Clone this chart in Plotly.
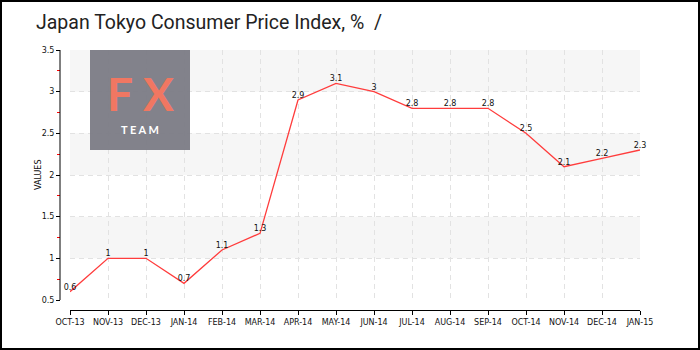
import plotly.graph_objects as go

months = ["OCT-13", "NOV-13", "DEC-13", "JAN-14", "FEB-14", "MAR-14", "APR-14", "MAY-14",
          "JUN-14", "JUL-14", "AUG-14", "SEP-14", "OCT-14", "NOV-14", "DEC-14", "JAN-15"]
values = [0.6, 1, 1, 0.7, 1.1, 1.3, 2.9, 3.1, 3, 2.8, 2.8, 2.8, 2.5, 2.1, 2.2, 2.3]
y_ticks = [0.5, 1, 1.5, 2, 2.5, 3, 3.5]
y_tick_labels = ["0.5", "1", "1.5", "2", "2.5", "3", "3.5"]
bands = [(1, 1.5), (2, 2.5), (3, 3.5)]

W, H = 700, 350
L, R, T, B = 60, 60, 50, 40
pw, ph = W - L - R, H - T - B


def px(x):
    return (x - L) / pw


def py(y):
    return (H - B - y) / ph


idx = list(range(len(months)))
fig = go.Figure()
fig.add_trace(go.Scatter(
    x=idx, y=values, mode="lines+text",
    line=dict(color="#ff3c3c", width=1.3),
    text=[str(v) for v in values], textposition="top center",
    textfont=dict(family="DejaVu Sans", size=8, color="#111"),
    cliponaxis=False, hoverinfo="skip", showlegend=False,
))
# invisible trace to carry the bottom (offset) x axis
fig.add_trace(go.Scatter(x=idx, y=values, xaxis="x2", mode="markers",
                         marker=dict(opacity=0), hoverinfo="skip", showlegend=False))

shapes = []
for lo, hi in bands:
    shapes.append(dict(type="rect", xref="x domain", yref="y", x0=0, x1=1, y0=lo, y1=hi,
                       fillcolor="#f6f6f6", line=dict(width=0), layer="below"))
# logo box
shapes.append(dict(type="rect", xref="paper", yref="paper", x0=px(90), x1=px(190),
                   y0=py(150), y1=py(50), fillcolor="#7b7b85", line=dict(width=0),
                   opacity=0.95, layer="above"))
# y axis line
shapes.append(dict(type="line", xref="paper", yref="y", x0=0, x1=0, y0=0.5, y1=3.5,
                   line=dict(color="#000", width=1)))
# outer frame
shapes.append(dict(type="rect", xref="paper", yref="paper", x0=px(1), x1=px(699),
                   y0=py(349), y1=py(1), line=dict(color="#000", width=2)))

annotations = [
    dict(text="<b>F X</b>", xref="paper", yref="paper", x=px(140), y=py(93), showarrow=False,
         font=dict(family="Lato", size=46, color="#f07762"),
         xanchor="center", yanchor="middle"),
    dict(text="<b>T E A M</b>", xref="paper", yref="paper", x=px(140), y=py(129), showarrow=False,
         font=dict(family="Lato", size=11, color="#ffffff"),
         xanchor="center", yanchor="middle"),
    dict(text="Japan Tokyo Consumer Price Index, %  /", xref="paper", yref="paper",
         x=px(34), y=py(23), showarrow=False, xanchor="left", yanchor="middle",
         font=dict(family="Roboto", size=19.5, color="#222")),
    dict(text="VALUES", xref="paper", yref="paper", x=px(38), y=py(175), showarrow=False,
         textangle=-90, xanchor="center", yanchor="middle",
         font=dict(family="DejaVu Sans", size=8, color="#111")),
]

grid_dash = "5px,4px"
tickfont = dict(family="DejaVu Sans", size=8, color="#111")

fig.update_layout(
    width=W, height=H, margin=dict(l=L, r=R, t=T, b=B),
    paper_bgcolor="#ffffff", plot_bgcolor="#ffffff",
    shapes=shapes, annotations=annotations,
    xaxis=dict(domain=[px(70), 1], range=[0, len(months) - 1],
               tickmode="array", tickvals=idx, showticklabels=False,
               anchor="y", showline=False, ticks="",
               showgrid=True, gridcolor="#e2e2e2", griddash=grid_dash, gridwidth=1,
               zeroline=False),
    xaxis2=dict(domain=[px(70), 1], matches="x", overlaying="x",
                tickmode="array", tickvals=idx, ticktext=months,
                anchor="free", position=0, side="bottom",
                showline=True, linecolor="#000", linewidth=1,
                ticks="outside", ticklen=4, tickcolor="#000",
                showgrid=False, zeroline=False, tickfont=tickfont),
    yaxis=dict(domain=[py(300), 1], range=[0.5, 3.5],
               tickmode="array", tickvals=y_ticks, ticktext=y_tick_labels,
               anchor="free", position=0,
               showline=False,
               ticks="outside", ticklen=4, tickcolor="#000",
               minor=dict(dtick=0.25, tick0=0.5, ticks="outside", ticklen=3, tickcolor="#ff0000",
                          showgrid=False),
               showgrid=True, gridcolor="#e2e2e2", griddash=grid_dash, gridwidth=1,
               zeroline=False, tickfont=tickfont),
)

fig.write_html("out.html")
